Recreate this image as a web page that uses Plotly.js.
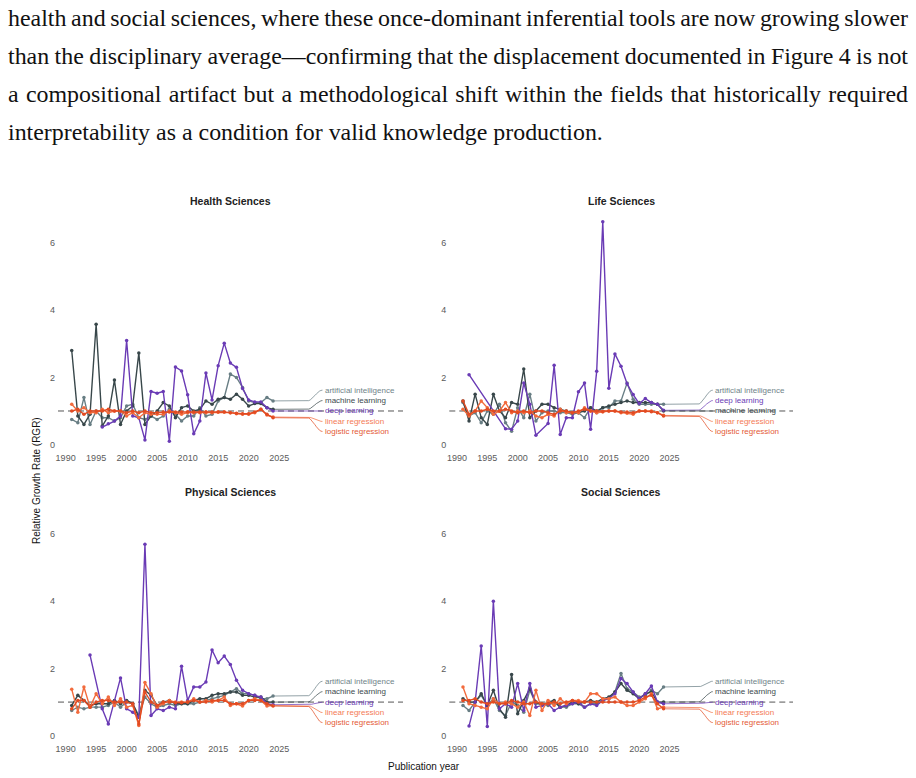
<!DOCTYPE html>
<html><head><meta charset="utf-8">
<script src="https://cdn.plot.ly/plotly-3.0.1.min.js"></script>
<style>
html,body{margin:0;padding:0;background:#fff;}
#wrap{position:relative;width:916px;height:778px;overflow:hidden;background:#fff;}
#chart{position:absolute;left:0;top:0;width:916px;height:778px;}
.ln{position:absolute;left:8px;white-space:nowrap;color:#111;z-index:5;pointer-events:none;}
</style></head>
<body>
<div id="wrap">
<div id="chart"></div>
<div class="ln" id="l1" style="font-family:'Liberation Serif', 'Tinos', serif;">health and social sciences, where these once-dominant inferential tools are now growing slower</div>
<div class="ln" id="l2" style="font-family:'Liberation Serif', 'Tinos', serif;">than the disciplinary average—confirming that the displacement documented in Figure 4 is not</div>
<div class="ln" id="l3" style="font-family:'Liberation Serif', 'Tinos', serif;">a compositional artifact but a methodological shift within the fields that historically required</div>
<div class="ln" id="l4" style="font-family:'Liberation Serif', 'Tinos', serif;">interpretability as a condition for valid knowledge production.</div>
</div>
<script>
// ---------------- DATA ----------------
const years = [1991,1992,1993,1994,1995,1996,1997,1998,1999,2000,2001,2002,2003,2004,2005,2006,2007,2008,2009,2010,2011,2012,2013,2014,2015,2016,2017,2018,2019,2020,2021,2022,2023,2024];
const xTickYears = [1990,1995,2000,2005,2010,2015,2020,2025];
const yTicks = [0,2,4,6];
const seriesNames = ['artificial intelligence','machine learning','deep learning','linear regression','logistic regression'];
const fieldNames = ['Health Sciences','Life Sciences','Physical Sciences','Social Sciences'];

// Health Sciences
const health_ai  = [0.75,0.65,1.4,0.6,1.0,0.8,0.8,0.7,0.8,1.15,1.2,0.8,0.75,0.85,0.75,0.85,1.05,0.9,0.7,0.85,0.85,1.1,0.85,0.9,1.3,1.4,2.1,2.0,1.7,1.3,1.25,1.25,1.4,1.3];
const health_ml  = [2.8,0.85,0.6,0.9,3.58,0.55,0.85,1.92,0.6,1.0,1.15,2.73,0.6,0.85,1.0,1.25,1.15,0.8,1.1,1.15,1.0,1.05,1.3,1.2,1.35,1.4,1.35,1.5,1.35,1.15,1.22,1.22,1.1,1.05];
const health_dl  = [null,null,null,null,null,0.52,0.62,0.7,0.85,3.1,0.85,0.8,0.14,1.58,1.53,1.58,0.1,2.31,2.19,1.48,0.32,0.7,2.13,1.33,2.35,3.02,2.43,2.3,1.67,1.33,1.27,1.27,1.1,1.0];
const health_lin = [1.2,1.0,1.1,0.95,0.95,1.05,0.95,1.0,1.0,0.85,0.95,0.8,0.95,0.9,0.9,0.9,1.0,0.95,0.9,0.95,0.95,0.95,0.95,0.95,0.97,0.97,0.95,0.92,0.9,0.9,0.95,1.05,0.88,0.82];
const health_log = [1.0,1.05,0.9,1.0,1.0,1.0,1.05,1.0,1.0,0.95,1.0,0.95,1.0,0.95,0.95,0.97,0.97,0.97,0.97,0.98,0.97,0.97,0.98,0.97,0.97,0.97,0.95,0.93,0.92,0.92,0.97,1.05,0.9,0.8];

// Life Sciences
const life_ai  = [1.25,0.85,0.95,0.65,1.0,0.9,1.2,0.65,0.4,1.1,0.8,1.5,0.7,0.95,1.0,1.0,0.95,0.95,0.9,0.95,0.8,1.1,0.95,1.1,1.1,1.3,1.3,1.83,1.35,1.2,1.2,1.2,1.2,1.2];
const life_ml  = [1.3,0.7,1.5,0.8,0.6,1.5,1.0,0.8,1.25,1.2,2.25,0.8,1.0,1.2,1.2,1.1,1.05,1.0,0.95,0.95,1.0,1.1,1.0,1.1,1.15,1.2,1.25,1.3,1.25,1.25,1.25,1.25,1.2,1.0];
const life_dl  = [null,2.08,null,null,null,null,null,0.47,0.46,0.7,1.83,1.2,0.28,null,0.63,2.36,0.3,0.8,0.8,1.57,1.83,0.46,2.18,6.63,1.68,2.7,2.33,1.81,1.49,1.22,1.37,1.25,1.2,1.02];
const life_lin = [1.05,0.85,1.0,1.3,1.1,0.9,1.0,1.25,0.95,1.0,0.95,1.0,0.85,0.8,0.9,0.85,1.05,0.95,0.95,0.95,1.1,1.0,0.95,0.98,1.0,1.0,0.95,0.93,0.9,1.0,1.0,1.0,0.95,0.87];
const life_log = [1.3,0.9,1.0,1.0,1.05,1.0,1.0,1.05,1.0,0.95,1.0,0.95,1.0,1.0,0.95,0.9,1.0,1.0,0.95,1.0,1.05,1.0,1.0,0.98,1.0,1.0,0.97,0.97,0.95,1.0,1.0,0.98,0.95,0.85];

// Physical Sciences
const phys_ai  = [0.75,0.85,0.8,0.85,0.85,0.85,0.9,1.0,0.85,1.0,0.95,0.6,1.15,0.95,0.85,0.9,0.95,0.9,0.95,0.95,0.95,1.0,1.05,1.1,1.15,1.2,1.3,1.4,1.25,1.25,1.2,1.1,1.1,1.18];
const phys_ml  = [0.9,1.2,1.05,0.9,0.95,0.95,0.95,1.05,0.95,1.05,0.95,0.55,1.35,1.2,0.9,1.0,1.05,0.95,0.95,0.95,1.05,1.1,1.1,1.2,1.25,1.25,1.3,1.3,1.2,1.2,1.15,1.15,1.0,1.0];
const phys_dl  = [null,null,null,2.4,null,0.8,0.35,1.0,1.72,0.8,0.7,0.55,5.7,0.6,0.8,0.75,0.85,0.8,2.07,1.05,1.45,1.45,1.6,2.55,2.17,2.37,2.12,1.65,1.35,1.25,1.2,1.15,0.95,0.92];
const phys_lin = [1.38,0.7,1.45,0.85,1.25,0.95,1.15,0.9,1.1,0.85,0.9,0.3,1.58,1.25,0.85,0.95,1.05,1.0,1.0,1.0,1.1,1.0,1.05,1.0,1.05,1.15,0.9,0.95,0.88,1.05,1.1,1.05,0.88,0.9];
const phys_log = [0.8,1.05,1.05,0.85,1.0,1.05,1.05,1.0,1.0,1.0,0.95,0.35,1.3,1.0,0.9,1.0,1.0,0.98,0.98,1.0,1.05,1.0,1.0,1.05,1.05,1.05,0.95,0.95,0.95,1.05,1.05,1.05,0.95,0.88];

// Social Sciences
const soc_ai  = [0.9,0.75,1.0,1.2,0.9,1.1,0.75,0.6,1.0,0.9,0.7,1.35,0.95,0.95,0.9,1.0,0.85,0.85,0.95,0.95,0.85,0.95,0.95,1.05,1.1,1.3,1.85,1.4,1.3,1.15,1.2,1.35,1.25,1.45];
const soc_ml  = [1.1,1.0,1.0,1.25,0.9,1.35,0.8,0.55,1.82,0.65,1.05,1.4,1.0,0.9,1.0,1.05,0.85,0.9,1.0,0.95,1.0,1.05,1.0,1.1,1.15,1.3,1.55,1.35,1.25,1.1,1.25,1.3,1.0,1.0];
const soc_dl  = [null,0.29,1.0,2.67,0.27,4.0,0.8,0.95,0.85,1.55,0.75,1.55,0.85,0.9,0.95,0.75,0.85,0.9,0.95,1.0,0.85,0.95,0.9,1.05,1.1,1.25,1.7,1.55,1.3,1.1,1.25,1.48,1.0,0.95];
const soc_lin = [1.45,0.95,0.9,0.85,0.8,1.1,0.95,1.0,0.95,0.85,1.0,0.6,1.35,0.75,1.05,0.9,1.1,0.95,1.05,1.05,1.0,1.25,1.25,1.1,1.1,1.15,1.0,0.9,0.9,1.0,1.1,1.25,0.8,0.85];
const soc_log = [1.05,1.05,1.1,1.0,0.95,1.0,0.95,0.95,1.05,1.0,0.95,0.95,1.0,0.95,0.95,1.0,0.95,1.0,1.05,1.0,1.0,1.0,1.0,1.0,1.0,1.0,1.0,1.0,1.0,1.05,1.15,1.2,0.95,0.8];

// ---------------- STYLE / LAYOUT ----------------
const colors = ['#687e84','#38474a','#6a3bb5','#f26b3d','#e24b22'];
const labelColors = ['#6f8388','#3c4a4d','#6a3bb5','#f47a55','#e45a35'];
const labelSlots = [1.62,1.31,1.0,0.69,0.39];
const W = 916, H = 778;
const xr = [1988.75, 2045.3];
const yr = [-0.2, 6.9];
const leftX = [58, 403], rightX = [449.3, 793];
const topY = [212.8, 451.3], botY = [503.9, 742.4];
const fx = p => p / W;
const fy = p => 1 - p / H;

const panelData = [
  [health_ai, health_ml, health_dl, health_lin, health_log],
  [life_ai, life_ml, life_dl, life_lin, life_log],
  [phys_ai, phys_ml, phys_dl, phys_lin, phys_log],
  [soc_ai, soc_ml, soc_dl, soc_lin, soc_log]
];
const boxes = [[leftX, topY],[rightX, topY],[leftX, botY],[rightX, botY]];
const titleY = [201, 201, 492, 492];

const traces = [];
const annotations = [];
const shapes = [];
const layout = {
  width: W, height: H, margin:{l:0,r:0,t:0,b:0},
  paper_bgcolor:'rgba(0,0,0,0)', plot_bgcolor:'rgba(0,0,0,0)',
  showlegend:false, font:{family:'Liberation Sans, Arial, sans-serif'},
};

panelData.forEach((series, pi) => {
  const k = pi === 0 ? '' : String(pi+1);
  const xa = 'x'+k, ya = 'y'+k;
  const [bx, by] = boxes[pi];
  layout['xaxis'+k] = {
    domain:[fx(bx[0]), fx(bx[1])], anchor: ya, range: xr,
    tickvals: xTickYears, ticktext: xTickYears.map(String),
    showgrid:false, zeroline:false, showline:false, ticks:'',
    tickfont:{size:9, color:'#5a5a5a'}, ticklabelstandoff: 0
  };
  layout['yaxis'+k] = {
    domain:[fy(by[1]), fy(by[0])], anchor: xa, range: yr,
    tickvals: yTicks, ticktext: yTicks.map(String),
    showgrid:false, zeroline:false, showline:false, ticks:'',
    tickfont:{size:9, color:'#5a5a5a'}, ticklabelstandoff: 2
  };
  shapes.push({type:'line', xref: xa+' domain', yref: ya, x0:0, x1:1, y0:1, y1:1,
    line:{color:'#555', width:1, dash:'6px,4px'}, layer:'below'});
  annotations.push({xref:'paper', yref:'paper', x: fx((bx[0]+bx[1])/2), y: fy(titleY[pi]),
    text:'<b>'+fieldNames[pi]+'</b>', showarrow:false, xanchor:'center', yanchor:'middle',
    font:{size:10.5, color:'#222'}});

  series.forEach((vals, si) => {
    traces.push({x: years, y: vals, xaxis: xa, yaxis: ya, type:'scatter', mode:'lines+markers',
      connectgaps:true, line:{color: colors[si], width: 1.4}, marker:{color: colors[si], size:3.5},
      hoverinfo:'skip', name: seriesNames[si]});
  });

  const ends = series.map((vals, si) => {
    let i = vals.length-1; while (vals[i] === null) i--;
    return {si, x: years[i], v: vals[i]};
  });
  const order = ends.slice().sort((a,b) => b.v - a.v);
  order.forEach((e, rank) => {
    const L = labelSlots[rank];
    const lx = [e.x, 2029.6], ly = [e.v, e.v];
    const n = 10;
    for (let t=1; t<=n; t++) {
      const f = t/n;
      lx.push(2029.6 + (2032.1-2029.6)*f);
      ly.push(e.v + (L - e.v)*(1-Math.cos(Math.PI*f))/2);
    }
    traces.push({x: lx, y: ly, xaxis: xa, yaxis: ya, type:'scatter', mode:'lines',
      line:{color: colors[e.si], width:0.9}, opacity:0.8, hoverinfo:'skip'});
    annotations.push({xref: xa, yref: ya, x: 2032.2, y: L, text: seriesNames[e.si],
      showarrow:false, xanchor:'left', yanchor:'middle', font:{size:8, color: labelColors[e.si]}});
  });
});

annotations.push({xref:'paper', yref:'paper', x: fx(424), y: fy(766), text:'Publication year',
  showarrow:false, xanchor:'center', yanchor:'middle', font:{size:10, color:'#111'}});
annotations.push({xref:'paper', yref:'paper', x: fx(37), y: fy(481), text:'Relative Growth Rate (RGR)',
  showarrow:false, textangle:-90, xanchor:'center', yanchor:'middle', font:{size:10, color:'#111'}});

layout.annotations = annotations;
layout.shapes = shapes;
Plotly.newPlot('chart', traces, layout, {displayModeBar:false, staticPlot:true});

// paragraph text: Times-like serif, last line ends near x=603, other lines justified to 900px
(function(){
  const ids = ['l1','l2','l3','l4'];
  const baselines = [27, 65, 103, 141];
  const c = document.createElement('canvas').getContext('2d');
  const fam = "'Liberation Serif', 'Tinos', serif";
  c.font = '22px ' + fam;
  const fs = 22 * 595 / c.measureText(document.getElementById('l4').textContent).width;
  ids.forEach((id, i) => {
    const el = document.getElementById(id);
    el.style.fontSize = fs + 'px';
    el.style.lineHeight = fs + 'px';
    el.style.top = (baselines[i] - 0.837 * fs) + 'px';
    if (i < 3) {
      c.font = fs + 'px ' + fam;
      const w = c.measureText(el.textContent).width;
      const words = el.textContent.split(' ').length - 1;
      el.style.wordSpacing = ((900 - w) / words) + 'px';
    }
  });
})();
</script>
</body></html>
